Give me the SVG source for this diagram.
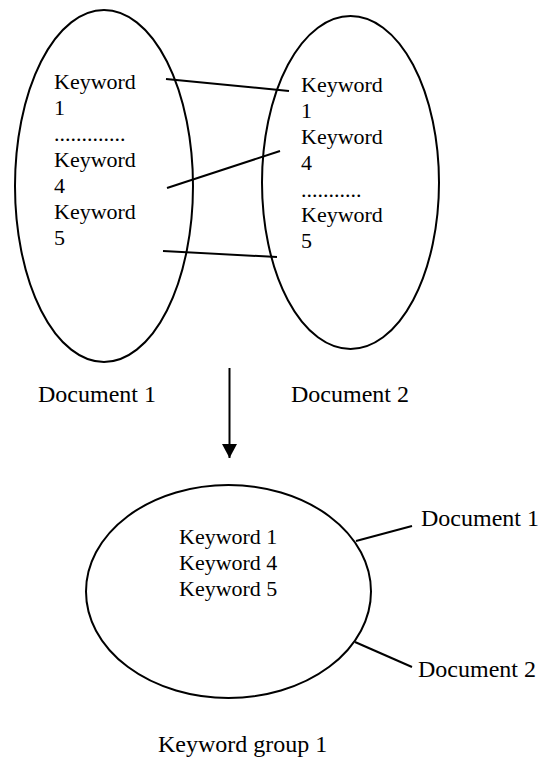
<svg xmlns="http://www.w3.org/2000/svg" width="547" height="757" viewBox="0 0 547 757">
<style>
.sh{fill:none;stroke:#000;stroke-width:2}
.ln{stroke:#000;stroke-width:2;fill:none}
.k{font-family:"Liberation Serif","Times New Roman",serif;font-size:22px;fill:#000}
.d{font-family:"Liberation Serif","Times New Roman",serif;font-size:24px;fill:#000}
</style>
<defs>
<marker id="ah" viewBox="0 0 14 15" refX="14" refY="7.5" markerWidth="14" markerHeight="15" markerUnits="userSpaceOnUse" orient="auto">
<path d="M0,0 L14,7.5 L0,15 Z" fill="#000"/>
</marker>
</defs>
<rect width="547" height="757" fill="#fff"/>
<g id="doc1">
<ellipse class="sh" cx="104" cy="186" rx="89" ry="176"/>
<text class="k" x="54" y="89">Keyword</text>
<text class="k" x="54" y="115">1</text>
<text class="k" x="54" y="141">.............</text>
<text class="k" x="54" y="167">Keyword</text>
<text class="k" x="54" y="193">4</text>
<text class="k" x="54" y="219">Keyword</text>
<text class="k" x="54" y="245">5</text>
<text class="d" x="38" y="402">Document 1</text>
</g>
<g id="doc2">
<ellipse class="sh" cx="350.5" cy="182.5" rx="88.5" ry="166.5"/>
<text class="k" x="301" y="92">Keyword</text>
<text class="k" x="301" y="118">1</text>
<text class="k" x="301" y="144">Keyword</text>
<text class="k" x="301" y="170">4</text>
<text class="k" x="301" y="197">...........</text>
<text class="k" x="301" y="222">Keyword</text>
<text class="k" x="301" y="248">5</text>
<text class="d" x="291" y="402">Document 2</text>
</g>
<g id="group1">
<ellipse class="sh" cx="228.5" cy="591.5" rx="142.5" ry="106.5"/>
<text class="k" x="179" y="544">Keyword 1</text>
<text class="k" x="179" y="570">Keyword 4</text>
<text class="k" x="179" y="596">Keyword 5</text>
<text class="d" x="158" y="752">Keyword group 1</text>
</g>
<g id="label-doc1">
<text class="d" x="421" y="526">Document 1</text>
</g>
<g id="label-doc2">
<text class="d" x="418" y="677">Document 2</text>
</g>
<g id="connectors">
<line class="ln" x1="166" y1="79" x2="289" y2="91"/>
<line class="ln" x1="167" y1="188" x2="280" y2="151"/>
<line class="ln" x1="163" y1="251" x2="277" y2="257"/>
<line class="ln" x1="229.5" y1="368" x2="229.5" y2="458" marker-end="url(#ah)"/>
<line class="ln" x1="356" y1="541" x2="412" y2="526"/>
<line class="ln" x1="355" y1="642" x2="412" y2="667"/>
</g>
</svg>
